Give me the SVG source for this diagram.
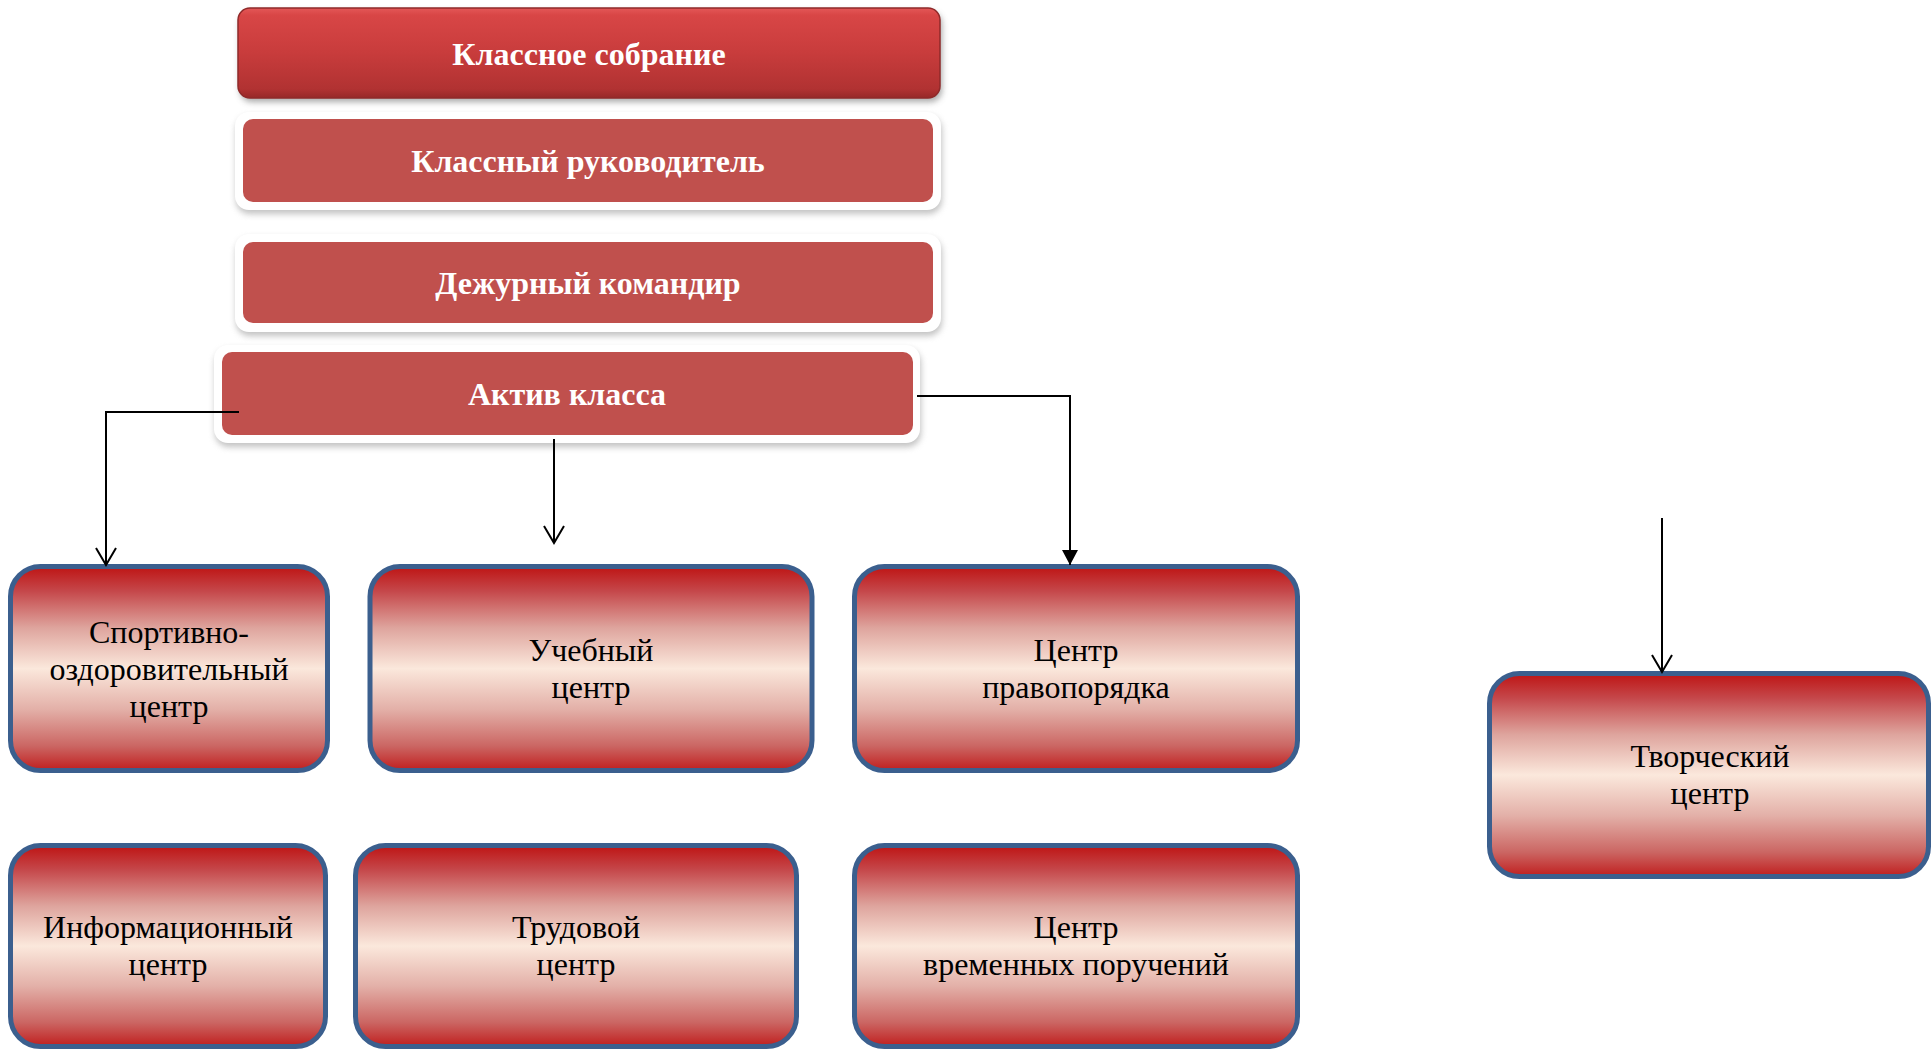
<svg xmlns="http://www.w3.org/2000/svg" width="1932" height="1049" viewBox="0 0 1932 1049">
<defs>
  <linearGradient id="gTop" x1="0" y1="0" x2="0" y2="1">
    <stop offset="0" stop-color="#e45858"/>
    <stop offset="0.08" stop-color="#d84646"/>
    <stop offset="0.5" stop-color="#c83c3c"/>
    <stop offset="0.9" stop-color="#b13232"/>
    <stop offset="1" stop-color="#962828"/>
  </linearGradient>
  <linearGradient id="gCenter" x1="0" y1="0" x2="0" y2="1">
    <stop offset="0" stop-color="#be1414"/>
    <stop offset="0.12" stop-color="#c5474a"/>
    <stop offset="0.3" stop-color="#dea49d"/>
    <stop offset="0.5" stop-color="#fbe8dc"/>
    <stop offset="0.7" stop-color="#e3b0a8"/>
    <stop offset="0.88" stop-color="#cb6663"/>
    <stop offset="1" stop-color="#c01e1e"/>
  </linearGradient>
  <filter id="soft" x="-5%" y="-20%" width="110%" height="140%">
    <feGaussianBlur stdDeviation="3"/>
  </filter>
  <marker id="open" markerWidth="24" markerHeight="24" refX="18" refY="11" orient="auto" markerUnits="userSpaceOnUse">
    <path d="M1,1 L18,11 L1,21" fill="none" stroke="#000" stroke-width="2"/>
  </marker>
  <marker id="filled" markerWidth="20" markerHeight="20" refX="15" refY="8" orient="auto" markerUnits="userSpaceOnUse">
    <path d="M0,0 L15,8 L0,16 Z" fill="#000"/>
  </marker>
</defs>
<style>
  .hdr { font-family: "Liberation Serif", "Times New Roman", serif; font-weight: bold; font-size: 32px; fill: #ffffff; text-anchor: middle; }
  .lbl { font-family: "Liberation Serif", "Times New Roman", serif; font-size: 32px; fill: #000000; text-anchor: middle; }
  .wbox { fill: #ffffff; }
  .rbox { fill: #c0504d; }
  .shadow { fill: #9a9a9a; opacity: 0.6; }
  .cbox { fill: url(#gCenter); stroke: #3b5f8e; stroke-width: 5; }
  .conn { fill: none; stroke: #000000; stroke-width: 2; }
</style>
<rect width="1932" height="1049" fill="#ffffff"/>

<g id="node-klassnoe-sobranie">
  <rect x="240" y="12" width="702" height="90" rx="12" fill="#555" opacity="0.5" filter="url(#soft)"/>
  <rect x="238" y="8" width="702" height="90" rx="12" fill="url(#gTop)" stroke="#8f2a2a" stroke-width="1.5"/>
  <text class="hdr" x="589" y="65">Классное собрание</text>
</g>

<g id="node-klassny-rukovoditel">
  <rect class="shadow" x="236" y="116" width="706" height="98" rx="14" filter="url(#soft)"/>
  <rect class="wbox" x="235" y="112" width="706" height="98" rx="14"/>
  <rect class="rbox" x="243" y="119" width="690" height="83" rx="10"/>
  <text class="hdr" x="588" y="172">Классный руководитель</text>
</g>

<g id="node-dezhurny-komandir">
  <rect class="shadow" x="236" y="238" width="706" height="98" rx="14" filter="url(#soft)"/>
  <rect class="wbox" x="235" y="234" width="706" height="98" rx="14"/>
  <rect class="rbox" x="243" y="242" width="690" height="81" rx="10"/>
  <text class="hdr" x="588" y="294">Дежурный командир</text>
</g>

<g id="node-aktiv-klassa">
  <rect class="shadow" x="215" y="349" width="706" height="98" rx="14" filter="url(#soft)"/>
  <rect class="wbox" x="214" y="345" width="706" height="98" rx="14"/>
  <rect class="rbox" x="222" y="352" width="691" height="83" rx="10"/>
  <text class="hdr" x="567" y="405">Актив класса</text>
</g>

<g id="node-sport">
  <rect class="cbox" x="10.5" y="566.5" width="317" height="204" rx="30"/>
  <text class="lbl" x="169" y="643">Спортивно-</text>
  <text class="lbl" x="169" y="680">оздоровительный</text>
  <text class="lbl" x="169" y="717">центр</text>
</g>

<g id="node-uchebny">
  <rect class="cbox" x="370" y="566.5" width="442" height="204" rx="30"/>
  <text class="lbl" x="591" y="661">Учебный</text>
  <text class="lbl" x="591" y="698">центр</text>
</g>

<g id="node-pravoporyadok">
  <rect class="cbox" x="854.5" y="566.5" width="443" height="204" rx="30"/>
  <text class="lbl" x="1076" y="661">Центр</text>
  <text class="lbl" x="1076" y="698">правопорядка</text>
</g>

<g id="node-tvorchesky">
  <rect class="cbox" x="1489.5" y="673.5" width="439" height="203" rx="30"/>
  <text class="lbl" x="1710" y="767">Творческий</text>
  <text class="lbl" x="1710" y="804">центр</text>
</g>

<g id="node-informatsionny">
  <rect class="cbox" x="10.5" y="845.5" width="315" height="201" rx="30"/>
  <text class="lbl" x="168" y="938">Информационный</text>
  <text class="lbl" x="168" y="975">центр</text>
</g>

<g id="node-trudovoy">
  <rect class="cbox" x="355.5" y="845.5" width="441" height="201" rx="30"/>
  <text class="lbl" x="576" y="938">Трудовой</text>
  <text class="lbl" x="576" y="975">центр</text>
</g>

<g id="node-vremennye">
  <rect class="cbox" x="854.5" y="845.5" width="443" height="201" rx="30"/>
  <text class="lbl" x="1076" y="938">Центр</text>
  <text class="lbl" x="1076" y="975">временных поручений</text>
</g>

<g id="connectors">
  <polyline class="conn" points="239,412 106,412 106,565" marker-end="url(#open)"/>
  <line class="conn" x1="554" y1="439" x2="554" y2="543" marker-end="url(#open)"/>
  <polyline class="conn" points="917,396 1070,396 1070,565" marker-end="url(#filled)"/>
  <line class="conn" x1="1662" y1="518" x2="1662" y2="672" marker-end="url(#open)"/>
</g>
</svg>
